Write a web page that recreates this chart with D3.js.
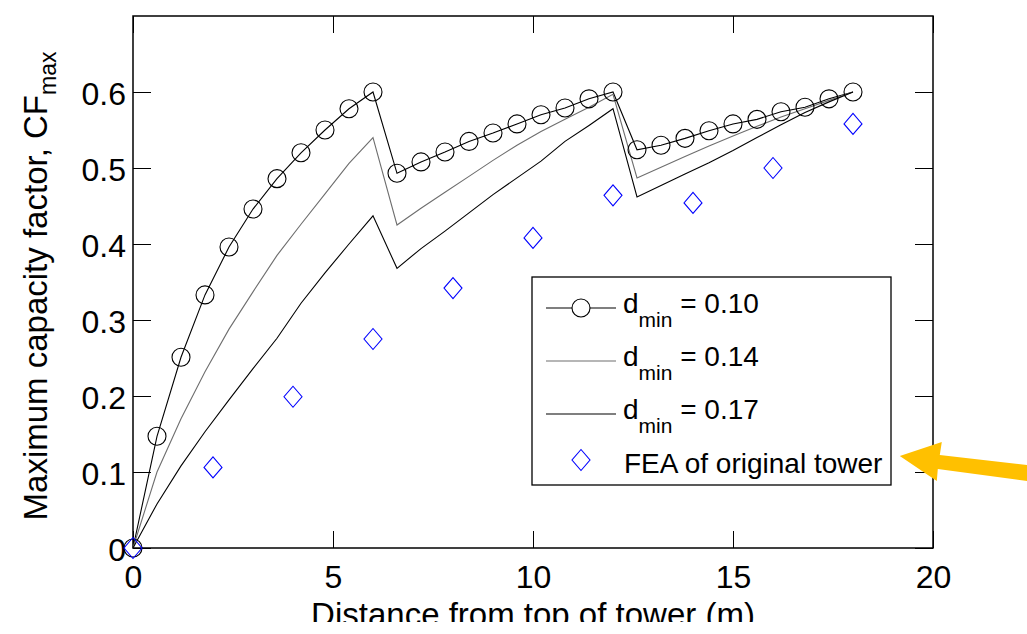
<!DOCTYPE html>
<html>
<head>
<meta charset="utf-8">
<script src="https://cdn.jsdelivr.net/npm/d3@7"></script>
<style>
  body { margin: 0; background: #fff; }
  text { font-family: "Liberation Sans", Arial, sans-serif; fill: #000; }
</style>
</head>
<body>
<div id="chart"></div>
<script>
// distance from top of tower (m), shared by the three d_min curves
var distance = [0, 0.6, 1.2, 1.8, 2.4, 3.0, 3.6, 4.2, 4.8, 5.4, 6.0,
  6.6, 7.2, 7.8, 8.4, 9.0, 9.6, 10.2, 10.8, 11.4, 12.0,
  12.6, 13.2, 13.8, 14.4, 15.0, 15.6, 16.2, 16.8, 17.4, 18.0];
var cf010 = [0, 0.147, 0.251, 0.333, 0.396, 0.446, 0.486, 0.520, 0.550, 0.578, 0.600,
  0.493, 0.508, 0.521, 0.535, 0.546, 0.558, 0.570, 0.579, 0.591, 0.600,
  0.524, 0.530, 0.539, 0.549, 0.558, 0.564, 0.574, 0.580, 0.591, 0.600];
var cf014 = [0, 0.100, 0.170, 0.232, 0.288, 0.337, 0.385, 0.426, 0.466, 0.506, 0.540,
  0.425, 0.447, 0.468, 0.489, 0.510, 0.530, 0.548, 0.564, 0.580, 0.597,
  0.487, 0.501, 0.515, 0.529, 0.542, 0.555, 0.567, 0.578, 0.589, 0.600];
var cf017 = [0, 0.058, 0.108, 0.153, 0.195, 0.236, 0.276, 0.322, 0.362, 0.400, 0.437,
  0.368, 0.394, 0.417, 0.441, 0.465, 0.487, 0.509, 0.535, 0.556, 0.578,
  0.462, 0.477, 0.492, 0.507, 0.523, 0.540, 0.557, 0.573, 0.587, 0.600];

// FEA of original tower
var feaDistance = [0, 2, 4, 6, 8, 10, 12, 14, 16, 18];
var feaCF = [0, 0.106, 0.199, 0.275, 0.342, 0.408, 0.464, 0.454, 0.500, 0.558];

var xTicks = [0, 5, 10, 15, 20];
var yTicks = [0, 0.1, 0.2, 0.3, 0.4, 0.5, 0.6];
var legendValues = ["0.10", "0.14", "0.17"];

var w = 1027, h = 634;
var x = d3.scaleLinear().domain([0, 20]).range([133, 933]);
var y = d3.scaleLinear().domain([0, 0.7]).range([548, 16]);

var svg = d3.select("#chart").append("svg")
  .attr("width", w)
  .attr("height", h);

// the original picture is cut just under the x title
svg.append("clipPath").attr("id", "pageclip")
  .append("rect").attr("x", 0).attr("y", 0).attr("width", w).attr("height", 622);

// axes, ticks pointing inward on all four sides
svg.append("g")
  .attr("transform", "translate(0," + y(0) + ")")
  .call(d3.axisBottom(x).tickValues(xTicks).tickSizeInner(-17).tickSizeOuter(0).tickPadding(17))
  .call(g => g.select(".domain").remove())
  .selectAll("text").style("font-size", "32px");
svg.append("g")
  .attr("transform", "translate(0," + y(0.7) + ")")
  .call(d3.axisTop(x).tickValues(xTicks).tickSizeInner(-17).tickSizeOuter(0).tickFormat(""))
  .call(g => g.select(".domain").remove());
svg.append("g")
  .attr("transform", "translate(" + x(0) + ",0)")
  .call(d3.axisLeft(y).tickValues(yTicks).tickSizeInner(-18).tickSizeOuter(0).tickPadding(7)
    .tickFormat(d => d === 0 ? "0" : d.toFixed(1)))
  .call(g => g.select(".domain").remove())
  .selectAll("text").style("font-size", "32px").attr("dy", "0.4em");
svg.append("g")
  .attr("transform", "translate(" + x(20) + ",0)")
  .call(d3.axisRight(y).tickValues(yTicks).tickSizeInner(-18).tickSizeOuter(0).tickFormat(""))
  .call(g => g.select(".domain").remove());
svg.selectAll(".tick line").attr("stroke", "#000").attr("stroke-width", 1);

svg.append("rect")
  .attr("x", x(0)).attr("y", y(0.7))
  .attr("width", x(20) - x(0)).attr("height", y(0) - y(0.7))
  .attr("fill", "none").attr("stroke", "#000").attr("stroke-width", 1.5);

// curves
var line = d3.line()
  .x(d => x(d[0]))
  .y(d => y(d[1]));
var curves = [
  { vals: cf010, color: "#000" },
  { vals: cf014, color: "#6e6e6e" },
  { vals: cf017, color: "#000" }
];
curves.forEach(function (c) {
  svg.append("path")
    .datum(distance.map((d, i) => [d, c.vals[i]]))
    .attr("d", line)
    .attr("fill", "none")
    .attr("stroke", c.color)
    .attr("stroke-width", 1.1);
});

svg.selectAll("circle.m010")
  .data(distance.map((d, i) => [d, cf010[i]]))
  .enter()
  .append("circle")
  .attr("class", "m010")
  .attr("cx", d => x(d[0]))
  .attr("cy", d => y(d[1]))
  .attr("r", 9)
  .attr("fill", "none")
  .attr("stroke", "#000")
  .attr("stroke-width", 1.1);

var diamond = "M0,-10.5L9,0L0,10.5L-9,0Z";
svg.selectAll("path.fea")
  .data(feaDistance.map((d, i) => [d, feaCF[i]]))
  .enter()
  .append("path")
  .attr("class", "fea")
  .attr("d", diamond)
  .attr("transform", d => "translate(" + x(d[0]) + "," + y(d[1]) + ")")
  .attr("fill", "none")
  .attr("stroke", "#0000ff")
  .attr("stroke-width", 1.1);

// axis titles
svg.append("text")
  .attr("x", (x(0) + x(20)) / 2)
  .attr("y", 626)
  .attr("text-anchor", "middle")
  .attr("clip-path", "url(#pageclip)")
  .style("font-size", "33px")
  .text("Distance from top of tower (m)");

var yl = svg.append("text")
  .attr("transform", "translate(47," + ((y(0) + y(0.7)) / 2 + 4) + ") rotate(-90)")
  .attr("text-anchor", "middle")
  .style("font-size", "33px");
yl.append("tspan").text("Maximum capacity factor, CF");
yl.append("tspan").attr("dy", 9).style("font-size", "23px").text("max");

// legend
var lg = svg.append("g");
lg.append("rect")
  .attr("x", 532).attr("y", 277).attr("width", 359).attr("height", 208)
  .attr("fill", "#fff").attr("stroke", "#000").attr("stroke-width", 1.3);
var rowY = [308, 361, 414];
legendValues.forEach(function (v, i) {
  lg.append("line")
    .attr("x1", 546).attr("x2", 616)
    .attr("y1", rowY[i]).attr("y2", rowY[i])
    .attr("stroke", curves[i].color).attr("stroke-width", 1.1);
  if (i === 0) {
    lg.append("circle").attr("cx", 581).attr("cy", rowY[i]).attr("r", 9)
      .attr("fill", "#fff").attr("stroke", "#000").attr("stroke-width", 1.1);
  }
  var t = lg.append("text")
    .attr("x", 623).attr("y", rowY[i] + 5)
    .style("font-size", "28px");
  t.append("tspan").text("d");
  t.append("tspan").attr("dy", 14).style("font-size", "21px").text("min");
  t.append("tspan").attr("dy", -14).text(" = " + v);
});
lg.append("path")
  .attr("d", diamond)
  .attr("transform", "translate(581,460)")
  .attr("fill", "none").attr("stroke", "#0000ff").attr("stroke-width", 1.1);
lg.append("text")
  .attr("x", 624).attr("y", 473)
  .style("font-size", "28px")
  .text("FEA of original tower");

// orange annotation arrow pointing at the FEA legend entry
var tipX = x(19.17), tipY = y(0.121);
svg.append("path")
  .attr("d", "M" + tipX + "," + tipY +
    "L" + (tipX + 42) + "," + (tipY - 14) +
    "L" + (tipX + 40) + "," + (tipY - 1) +
    "L" + w + "," + (tipY + 9) +
    "L" + w + "," + (tipY + 25) +
    "L" + (tipX + 38) + "," + (tipY + 13) +
    "L" + (tipX + 37) + "," + (tipY + 25) + "Z")
  .attr("fill", "#ffc000");
</script>
</body>
</html>
